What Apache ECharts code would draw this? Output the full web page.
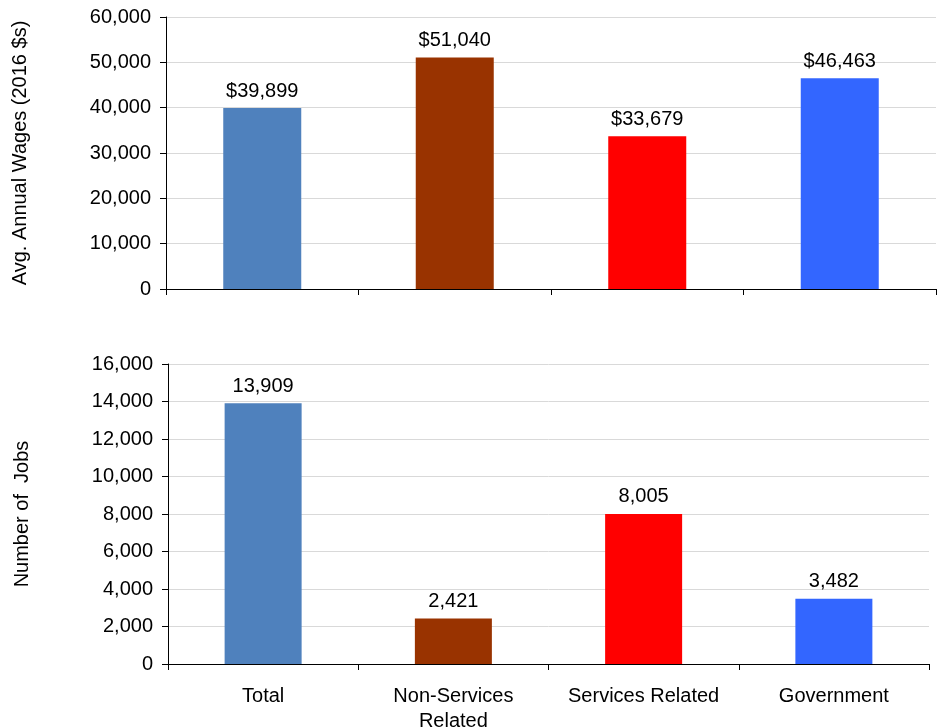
<!doctype html>
<html>
<head>
<meta charset="UTF-8">
<title>Wages and Jobs</title>
<script src="https://cdn.jsdelivr.net/npm/echarts@6/dist/echarts.min.js"></script>
<style>
  html, body { margin: 0; padding: 0; background: #fff; }
  #main { width: 938px; height: 727px; }
</style>
</head>
<body>
<div id="main"></div>
<script>
var categories = ['Total', 'Non-Services\nRelated', 'Services Related', 'Government'];
var barColors = ['#4F81BD', '#993300', '#FF0000', '#3366FF'];
var wages = [39899, 51040, 33679, 46463];
var jobs = [13909, 2421, 8005, 3482];

var FONT = '"Liberation Sans", Arial, sans-serif';

function fmt(v) {
    return Number(v).toLocaleString('en-US');
}

function colored(values) {
    var out = [];
    for (var i = 0; i < values.length; i++) {
        out.push({ value: values[i], itemStyle: { color: barColors[i] } });
    }
    return out;
}

var axisLine = { show: true, lineStyle: { color: '#000', width: 1 } };
var axisTick = { show: true, length: 6, lineStyle: { color: '#000', width: 1 } };
var splitLine = { show: true, lineStyle: { color: '#d9d9d9', width: 1 } };

var myChart = echarts.init(document.getElementById('main'));
var option = {
    animation: false,
    textStyle: { fontFamily: FONT },
    grid: [
        { left: 166, right: 2, top: 17, height: 272, outerBoundsMode: 'none' },
        { left: 168, right: 9, top: 364, height: 300, outerBoundsMode: 'none' }
    ],
    xAxis: [
        {
            type: 'category', gridIndex: 0, data: categories,
            axisLine: axisLine, axisTick: axisTick,
            axisLabel: { show: false }
        },
        {
            type: 'category', gridIndex: 1, data: categories,
            axisLine: axisLine, axisTick: axisTick,
            axisLabel: {
                interval: 0, margin: 20, color: '#000',
                fontSize: 20, lineHeight: 25, fontFamily: FONT
            }
        }
    ],
    yAxis: [
        {
            type: 'value', gridIndex: 0, min: 0, max: 60000, interval: 10000,
            name: 'Avg. Annual Wages (2016 $s)', nameLocation: 'middle', nameGap: 136,
            nameTextStyle: { fontSize: 20, color: '#000', fontFamily: FONT },
            axisLine: axisLine, axisTick: axisTick, splitLine: splitLine,
            axisLabel: { margin: 15, color: '#000', fontSize: 20, fontFamily: FONT, formatter: fmt }
        },
        {
            type: 'value', gridIndex: 1, min: 0, max: 16000, interval: 2000,
            name: 'Number of  Jobs', nameLocation: 'middle', nameGap: 136,
            nameTextStyle: { fontSize: 20, color: '#000', fontFamily: FONT },
            axisLine: axisLine, axisTick: axisTick, splitLine: splitLine,
            axisLabel: { margin: 15, color: '#000', fontSize: 20, fontFamily: FONT, formatter: fmt }
        }
    ],
    series: [
        {
            name: 'Wages', type: 'bar', xAxisIndex: 0, yAxisIndex: 0,
            barWidth: 78, data: colored(wages),
            label: {
                show: true, position: 'top', distance: 7, color: '#000',
                fontSize: 20, fontFamily: FONT,
                formatter: function (p) { return '$' + fmt(p.value); }
            }
        },
        {
            name: 'Jobs', type: 'bar', xAxisIndex: 1, yAxisIndex: 1,
            barWidth: 77, data: colored(jobs),
            label: {
                show: true, position: 'top', distance: 7, color: '#000',
                fontSize: 20, fontFamily: FONT,
                formatter: function (p) { return fmt(p.value); }
            }
        }
    ]
};
myChart.setOption(option);
</script>
</body>
</html>
